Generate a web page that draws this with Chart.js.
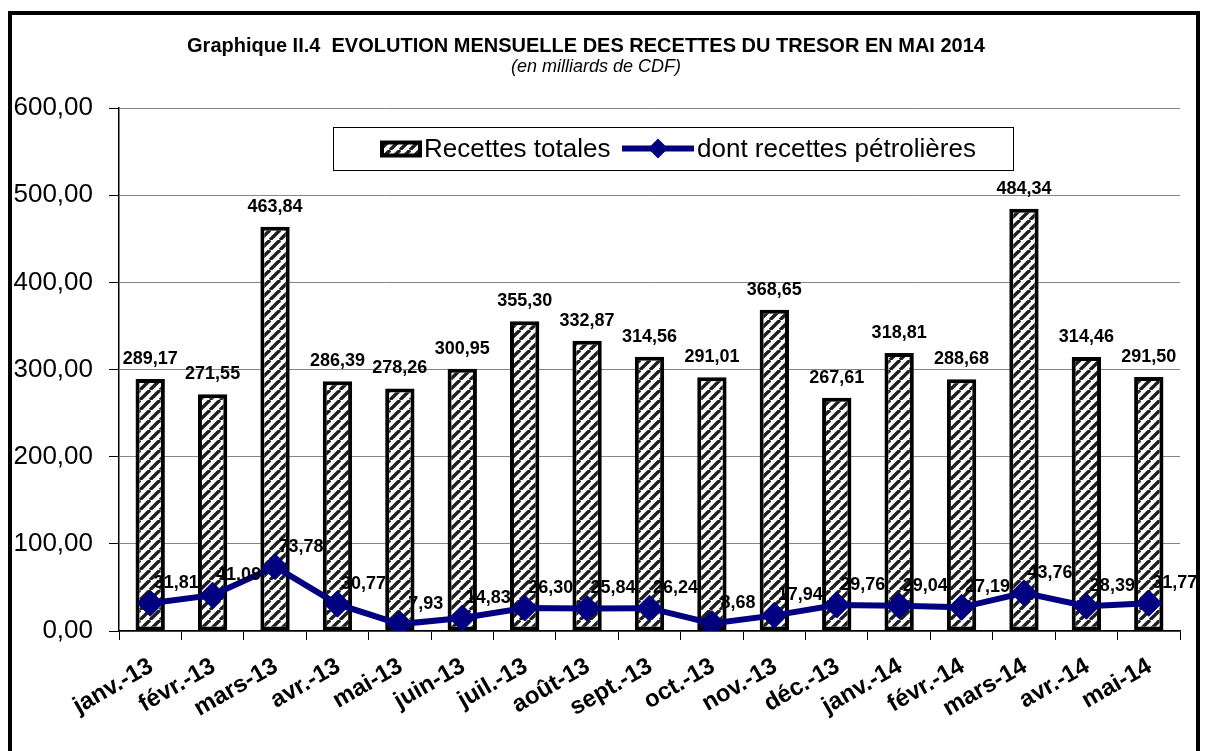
<!DOCTYPE html>
<html>
<head>
<meta charset="utf-8">
<script src="https://cdn.jsdelivr.net/npm/chart.js@4.4.1/dist/chart.umd.min.js"></script>
<style>
  html, body { margin: 0; padding: 0; background: #fff; }
  #wrap { position: relative; width: 1208px; height: 751px; overflow: hidden; }
  #frame { position: absolute; left: 8px; top: 11px; width: 1192px; height: 800px;
           border: 4px solid #000; box-sizing: border-box; pointer-events: none; }
  canvas { position: absolute; left: 0; top: 0; }
</style>
</head>
<body>
<div id="wrap">
  <canvas id="chart" width="1208" height="751"></canvas>
  <div id="frame"></div>
</div>
<script>
// ---- data (milliards de CDF) ----
const months = ['janv.-13', 'févr.-13', 'mars-13', 'avr.-13', 'mai-13', 'juin-13', 'juil.-13', 'août-13',
                'sept.-13', 'oct.-13', 'nov.-13', 'déc.-13', 'janv.-14', 'févr.-14', 'mars-14', 'avr.-14', 'mai-14'];
const totalRevenue = [289.17, 271.55, 463.84, 286.39, 278.26, 300.95, 355.30, 332.87,
                      314.56, 291.01, 368.65, 267.61, 318.81, 288.68, 484.34, 314.46, 291.50];
const oilRevenue   = [31.81, 41.09, 73.78, 30.77, 7.93, 14.83, 26.30, 25.84,
                      26.24, 8.68, 17.94, 29.76, 29.04, 27.19, 43.76, 28.39, 31.77];
const yMax = 600;
const yStep = 100;

const titleText = 'Graphique II.4  EVOLUTION MENSUELLE DES RECETTES DU TRESOR EN MAI 2014';
const subtitleText = '(en milliards de CDF)';

const FONT = "'Liberation Sans', Arial, sans-serif";
const NAVY = '#000080';

const fmt = v => v.toFixed(2).replace('.', ',');

// diagonal hatch used for the bars
function makeHatch() {
  const s = 10;
  const c = document.createElement('canvas');
  c.width = s; c.height = s;
  const g = c.getContext('2d');
  g.fillStyle = '#fff';
  g.fillRect(0, 0, s, s);
  g.strokeStyle = '#1e1e1e';
  g.lineWidth = 3.4;
  [-s, 0, s].forEach(dx => {
    g.beginPath();
    g.moveTo(dx, s);
    g.lineTo(dx + s, 0);
    g.stroke();
  });
  return g.createPattern(c, 'repeat');
}
const hatch = makeHatch();

// titles, boxed legend and value labels
const decorations = {
  id: 'decorations',
  afterDraw(chart) {
    const ctx = chart.ctx;
    ctx.save();
    ctx.fillStyle = '#000';
    ctx.textAlign = 'center';
    ctx.textBaseline = 'middle';
    ctx.font = `bold 20px ${FONT}`;
    ctx.fillText(titleText, 586, 46);
    ctx.font = `italic 18px ${FONT}`;
    ctx.fillText(subtitleText, 596, 67);

    // value labels
    ctx.font = `bold 18px ${FONT}`;
    const barMeta = chart.getDatasetMeta(0);
    barMeta.data.forEach((bar, i) => {
      ctx.textBaseline = 'bottom';
      ctx.fillText(fmt(totalRevenue[i]), bar.x, bar.y - 11);
    });
    const lineMeta = chart.getDatasetMeta(1);
    lineMeta.data.forEach((pt, i) => {
      ctx.textBaseline = 'middle';
      ctx.fillText(fmt(oilRevenue[i]), pt.x + 26, pt.y - 20);
    });

    // legend box
    const lx = 333, ly = 127, lw = 680, lh = 43;
    const cy = ly + lh / 2;
    ctx.fillStyle = '#fff';
    ctx.fillRect(lx, ly, lw, lh);
    ctx.strokeStyle = '#000';
    ctx.lineWidth = 1;
    ctx.strokeRect(lx + 0.5, ly + 0.5, lw, lh);

    const ds = chart.data.datasets;
    ctx.fillStyle = hatch;
    ctx.fillRect(382, cy - 6, 38, 13);
    ctx.strokeStyle = '#000';
    ctx.lineWidth = 4;
    ctx.strokeRect(382, cy - 6, 38, 13);

    ctx.font = `26px ${FONT}`;
    ctx.fillStyle = '#000';
    ctx.textAlign = 'left';
    ctx.textBaseline = 'middle';
    ctx.fillText(ds[0].label, 424, cy + 1);

    ctx.strokeStyle = NAVY;
    ctx.lineWidth = 6;
    ctx.beginPath();
    ctx.moveTo(622, cy);
    ctx.lineTo(694, cy);
    ctx.stroke();
    ctx.fillStyle = NAVY;
    ctx.beginPath();
    ctx.moveTo(658, cy - 10);
    ctx.lineTo(668, cy);
    ctx.lineTo(658, cy + 10);
    ctx.lineTo(648, cy);
    ctx.closePath();
    ctx.fill();
    ctx.fillStyle = '#000';
    ctx.fillText(ds[1].label, 697, cy + 1);
    ctx.restore();
  }
};

new Chart(document.getElementById('chart'), {
  type: 'bar',
  data: {
    labels: months,
    datasets: [{
      type: 'bar',
      label: 'Recettes totales',
      data: totalRevenue,
      backgroundColor: hatch,
      borderColor: '#000',
      borderWidth: 4,
      borderSkipped: false,
      barPercentage: 0.47,
      categoryPercentage: 1,
      order: 2
    }, {
      type: 'line',
      label: 'dont recettes pétrolières',
      data: oilRevenue,
      borderColor: NAVY,
      borderWidth: 6,
      tension: 0,
      pointStyle: 'rectRot',
      pointRadius: 13,
      pointBackgroundColor: NAVY,
      pointBorderColor: NAVY,
      pointBorderWidth: 1,
      order: 1
    }]
  },
  options: {
    responsive: false,
    animation: false,
    events: [],
    layout: { padding: { top: 108, right: 28, bottom: 0, left: 0 } },
    plugins: {
      legend: { display: false },
      title: { display: false },
      tooltip: { enabled: false }
    },
    scales: {
      x: {
        grid: { offset: true, drawOnChartArea: false, drawTicks: true, tickLength: 9, tickColor: '#000' },
        border: { color: '#000', width: 1.5 },
        ticks: {
          autoSkip: false, minRotation: 30, maxRotation: 30, padding: 12, labelOffset: 1,
          color: '#000', font: { family: FONT, size: 24, weight: 'bold' }
        },
        afterFit: s => { s.height = 120; }
      },
      y: {
        min: 0, max: yMax,
        grid: { color: '#858585', lineWidth: 1, tickColor: '#000', tickLength: 10 },
        border: { color: '#000', width: 1.5 },
        ticks: {
          stepSize: yStep, padding: 16, color: '#000',
          font: { family: FONT, size: 26 },
          callback: v => fmt(v)
        },
        afterFit: s => { s.width = 119; }
      }
    }
  },
  plugins: [decorations]
});
</script>
</body>
</html>
